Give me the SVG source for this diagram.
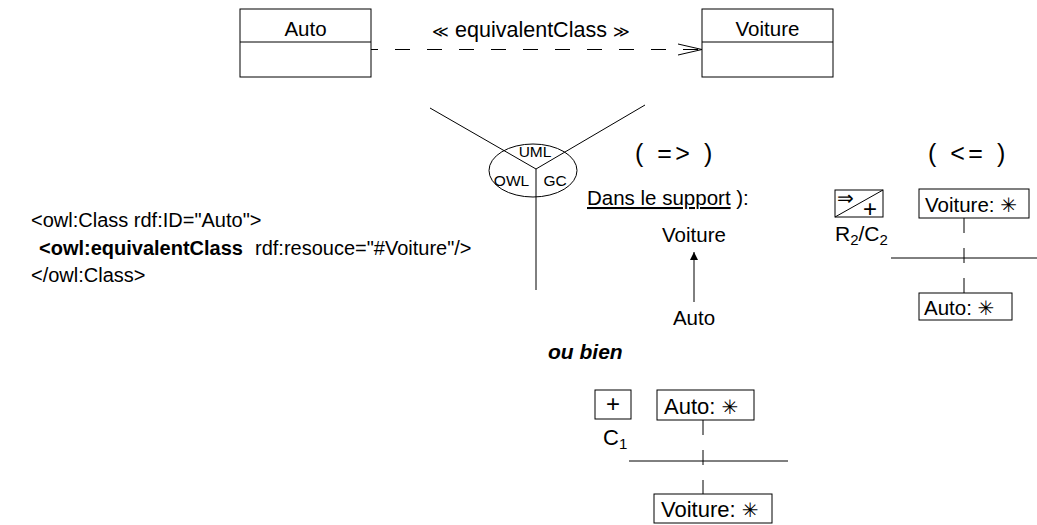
<svg xmlns="http://www.w3.org/2000/svg" width="1037" height="525" viewBox="0 0 1037 525">
<defs>
<style>
text{font-family:"Liberation Sans",Arial,sans-serif;fill:#000}
.box{fill:#fff;stroke:#000;stroke-width:1}
.ln{stroke:#000;stroke-width:1;fill:none}
.dash{stroke:#000;stroke-width:1;fill:none;stroke-dasharray:15 15}
.t20{font-size:20.5px}
.t22{font-size:22px}
.code{font-size:20px}
.sym{font-family:"DejaVu Sans",sans-serif;font-size:20px}
.big{font-size:25px;letter-spacing:3.5px}
</style>
<marker id="fill" viewBox="0 0 8 10" refX="8" refY="5" markerWidth="8" markerHeight="10" orient="auto-start-reverse" markerUnits="userSpaceOnUse">
<path d="M0,1 L8,5 L0,9 z" fill="#000"/>
</marker>
</defs>
<rect width="1037" height="525" fill="#fff"/>

<g id="auto-class">
<rect class="box" x="240" y="9" width="131" height="68"/>
<line class="ln" x1="240" y1="42" x2="371" y2="42"/>
<text class="t20" x="305.5" y="36" text-anchor="middle">Auto</text>
</g>
<g id="voiture-class">
<rect class="box" x="702" y="9" width="131" height="68"/>
<line class="ln" x1="702" y1="42" x2="833" y2="42"/>
<text class="t20" x="767.5" y="36" text-anchor="middle">Voiture</text>
</g>

<g id="connectors">
<line class="ln" x1="371" y1="49.5" x2="701" y2="49.5" stroke-dasharray="15 17" stroke-dashoffset="8"/>
<path class="ln" d="M678,44 L702,49.5 L678,55" stroke-width="1.6"/>
<text x="531" y="37" font-size="21.5" text-anchor="middle"><tspan font-size="16">≪</tspan> equivalentClass <tspan font-size="16">≫</tspan></text>
<line class="ln" x1="694" y1="302" x2="694" y2="252" marker-end="url(#fill)" stroke-width="1.3"/>
<line class="dash" x1="964" y1="218" x2="964" y2="293"/>
<line class="ln" x1="891" y1="258" x2="1037" y2="258"/>
<line class="dash" x1="703" y1="420" x2="703" y2="494"/>
<line class="ln" x1="629" y1="461" x2="788" y2="461"/>
</g>

<g id="y-diagram">
<ellipse class="ln" cx="533" cy="170.5" rx="44" ry="26.5"/>
<line class="ln" x1="430" y1="108" x2="536" y2="169"/>
<line class="ln" x1="645" y1="105" x2="536" y2="169"/>
<line class="ln" x1="536" y1="169" x2="536" y2="290"/>
<text x="535" y="157" font-size="15.5" text-anchor="middle">UML</text>
<text x="511.5" y="186" font-size="15.5" text-anchor="middle">OWL</text>
<text x="555" y="186" font-size="15.5" text-anchor="middle">GC</text>
</g>

<g id="owl-code">
<text class="code" x="31" y="227">&lt;owl:Class rdf:ID="Auto"&gt;</text>
<text class="code" x="39" y="255" font-weight="bold">&lt;owl:equivalentClass</text>
<text class="code" x="255" y="255">rdf:resouce="#Voiture"/&gt;</text>
<text class="code" x="31" y="282">&lt;/owl:Class&gt;</text>
</g>

<g id="forward">
<text class="big" x="635" y="162">( =&gt; )</text>
<text class="t20" x="587" y="205"><tspan text-decoration="underline">Dans le support</tspan> ):</text>
<text class="t20" x="694" y="242" text-anchor="middle">Voiture</text>
<text class="t20" x="694" y="325" text-anchor="middle">Auto</text>
</g>

<g id="backward">
<text class="big" x="928" y="162">( &lt;= )</text>
<rect class="box" x="835" y="190" width="48" height="27"/>
<line class="ln" x1="835" y1="217" x2="883" y2="190"/>
<text x="837" y="205" font-size="20" font-family="DejaVu Sans,sans-serif">⇒</text>
<text x="870" y="217" font-size="24" text-anchor="middle">+</text>
<text x="835" y="241" font-size="21">R<tspan font-size="15" dy="4">2</tspan><tspan dy="-4">/C</tspan><tspan font-size="15" dy="4">2</tspan></text>
</g>
<g id="voiture-star-1">
<rect class="box" x="919" y="189" width="110" height="29"/>
<text class="t20" x="925" y="212">Voiture: <tspan class="sym">✳︎</tspan></text>
</g>
<g id="auto-star-1">
<rect class="box" x="919" y="293" width="93" height="27"/>
<text class="t20" x="924" y="315">Auto: <tspan class="sym">✳︎</tspan></text>
</g>

<text x="548" y="359" font-size="21" font-weight="bold" font-style="italic">ou bien</text>

<g id="c1">
<rect class="box" x="595" y="390" width="36" height="29"/>
<text x="613" y="412" font-size="24" text-anchor="middle">+</text>
<text x="603" y="445" font-size="22">C<tspan font-size="15" dy="4">1</tspan></text>
</g>
<g id="auto-star-2">
<rect class="box" x="657" y="390" width="97" height="30"/>
<text class="t22" x="664" y="414">Auto: <tspan class="sym">✳︎</tspan></text>
</g>
<g id="voiture-star-2">
<rect class="box" x="654" y="494" width="118" height="29"/>
<text class="t22" x="661" y="517">Voiture: <tspan class="sym">✳︎</tspan></text>
</g>
</svg>
